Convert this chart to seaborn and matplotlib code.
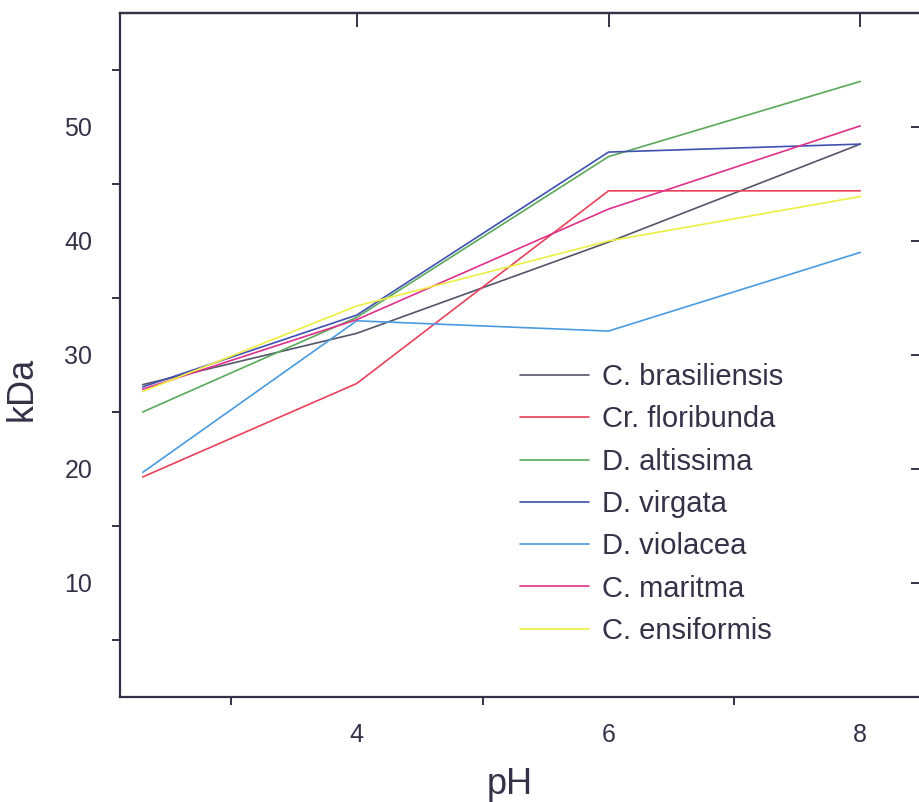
import pandas as pd
import seaborn as sns
import matplotlib
matplotlib.use("Agg")
import matplotlib.pyplot as plt
from matplotlib.ticker import FixedLocator

sns.set_theme(style="white")
plt.rcParams['font.family'] = ['Liberation Sans', 'DejaVu Sans']

ph = [2.3, 4, 6, 8]
species = ["C. brasiliensis", "Cr. floribunda", "D. altissima", "D. virgata",
           "D. violacea", "C. maritma", "C. ensiformis"]
kda_brasiliensis = [27.4, 31.9, 39.9, 48.5]
kda_floribunda = [19.3, 27.5, 44.4, 44.4]
kda_altissima = [25.0, 33.3, 47.4, 54.0]
kda_virgata = [27.2, 33.5, 47.8, 48.5]
kda_violacea = [19.7, 33.0, 32.1, 39.0]
kda_maritma = [27.0, 33.1, 42.8, 50.1]
kda_ensiformis = [26.8, 34.3, 40.0, 43.9]
colors = ["#55556a", "#e8415a", "#5aa85a", "#4050b0", "#4a9ae0", "#e0308a", "#eeee44"]
x_major = [4, 6, 8]
x_minor = [3, 5, 7]
y_major = [10, 20, 30, 40, 50]
y_minor = [5, 15, 25, 35, 45, 55]

series = [kda_brasiliensis, kda_floribunda, kda_altissima, kda_virgata,
          kda_violacea, kda_maritma, kda_ensiformis]
rows = []
for name, vals in zip(species, series):
    for p, v in zip(ph, vals):
        rows.append({"pH": p, "kDa": v, "species": name})
data = pd.DataFrame(rows)

ink = "#333348"
fig = plt.figure(figsize=(9.2, 8.02), dpi=100)
ax = fig.add_axes([120 / 920, 105 / 802, 802 / 920, 684 / 802])

sns.lineplot(data=data, x="pH", y="kDa", hue="species", hue_order=species,
             palette=colors, linewidth=1.2, ax=ax, estimator=None, sort=False)

ax.set_xlim(2.12, 8.49)
ax.set_ylim(0, 60)
ax.xaxis.set_major_locator(FixedLocator(x_major))
ax.xaxis.set_minor_locator(FixedLocator(x_minor))
ax.yaxis.set_major_locator(FixedLocator(y_major))
ax.yaxis.set_minor_locator(FixedLocator(y_minor))

for s in ax.spines.values():
    s.set_color(ink)
    s.set_linewidth(1.6)

ax.tick_params(axis="both", which="major", direction="out", length=11, width=1.4,
               color=ink, labelcolor=ink, labelsize=18)
ax.tick_params(axis="both", which="minor", direction="out", length=6, width=1.4,
               color=ink, left=True, bottom=True)
ax.tick_params(axis="y", which="major", pad=9)
ax.tick_params(axis="x", which="major", pad=8)

top = ax.secondary_xaxis("top")
top.set_xticks(x_major)
top.tick_params(direction="in", length=10, width=1.4, color=ink, labeltop=False)
top.spines["top"].set_color(ink)
top.spines["top"].set_linewidth(1.6)
right = ax.secondary_yaxis("right")
right.set_yticks(y_major)
right.tick_params(direction="in", length=8, width=1.4, color=ink, labelright=False)

ax.set_xlabel("pH", fontsize=26, color=ink)
ax.set_ylabel("kDa", fontsize=26, color=ink)
ax.xaxis.set_label_coords(0.486, -0.103)
ax.yaxis.set_label_coords(-0.1, 0.45)

ax.legend(loc="upper left", bbox_to_anchor=(0.499, 0.488), frameon=False,
          fontsize=21, handlelength=2.35, handletextpad=0.45, labelspacing=0.49,
          borderpad=0, borderaxespad=0, labelcolor=ink)

fig.savefig("out.png", dpi=100)
